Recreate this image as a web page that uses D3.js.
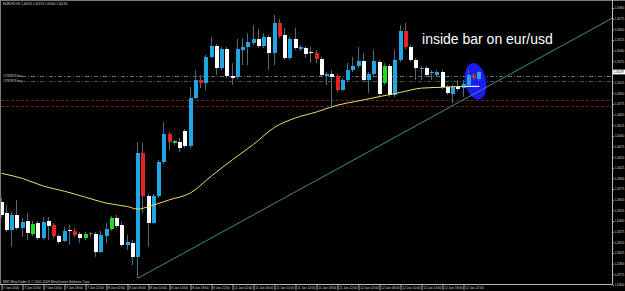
<!DOCTYPE html>
<html>
<head>
<meta charset="utf-8">
<script src="https://cdn.jsdelivr.net/npm/d3@7"></script>
<style>
  body { margin: 0; background: #000; }
  svg { display: block; }
  .axis text { font-family: "Liberation Sans", Arial, sans-serif; font-size: 3.2px; fill: #d8d8d8; }
  .axis line { stroke: #b0b0b0; }
  .priceAxis text { font-size: 2.7px; }
</style>
</head>
<body>
<script>
// EURUSD H1, 7 - 12 Jan 2010 (MetaTrader screenshot)

// one entry per hourly bar
var opens = [1.4362, 1.4349, 1.4330, 1.4347, 1.4332, 1.4340, 1.4325, 1.4338, 1.4320, 1.4340,
             1.4335, 1.4322, 1.4317, 1.4330, 1.4328, 1.4325, 1.4320, 1.4326, 1.4325, 1.4304,
             1.4322, 1.4331, 1.4344, 1.4335, 1.4312, 1.4314, 1.4298, 1.4420, 1.4369, 1.4338,
             1.4369, 1.4409, 1.4442, 1.4432, 1.4433, 1.4446, 1.4428, 1.4484, 1.4506, 1.4502,
             1.4532, 1.4545, 1.4520, 1.4542, 1.4510, 1.4509, 1.4541, 1.4544, 1.4549, 1.4554,
             1.4545, 1.4556, 1.4537, 1.4572, 1.4558, 1.4531, 1.4554, 1.4542, 1.4543, 1.4538,
             1.4537, 1.4530, 1.4510, 1.4513, 1.4510, 1.4494, 1.4506, 1.4517, 1.4522, 1.4528,
             1.4506, 1.4513, 1.4527, 1.4502, 1.4522, 1.4488, 1.4529, 1.4563, 1.4544, 1.4529,
             1.4518, 1.4520, 1.4514, 1.4511, 1.4515, 1.4497, 1.4489, 1.4497, 1.4496, 1.4500,
             1.4511, 1.4507];
var highs = [1.4367, 1.4359, 1.4351, 1.4365, 1.4344, 1.4349, 1.4340, 1.4340, 1.4345, 1.4345,
             1.4338, 1.4325, 1.4333, 1.4335, 1.4332, 1.4327, 1.4327, 1.4327, 1.4327, 1.4328,
             1.4338, 1.4346, 1.4347, 1.4339, 1.4324, 1.4318, 1.4433, 1.4432, 1.4372, 1.4372,
             1.4412, 1.4456, 1.4445, 1.4435, 1.4437, 1.4448, 1.4497, 1.4517, 1.4511, 1.4535,
             1.4556, 1.4548, 1.4544, 1.4544, 1.4525, 1.4554, 1.4555, 1.4561, 1.4570, 1.4565,
             1.4561, 1.4558, 1.4582, 1.4577, 1.4566, 1.4556, 1.4566, 1.4547, 1.4545, 1.4544,
             1.4541, 1.4532, 1.4515, 1.4517, 1.4513, 1.4508, 1.4525, 1.4532, 1.4544, 1.4537,
             1.4515, 1.4541, 1.4529, 1.4525, 1.4524, 1.4541, 1.4570, 1.4572, 1.4547, 1.4531,
             1.4522, 1.4522, 1.4517, 1.4517, 1.4517, 1.4500, 1.4500, 1.4506, 1.4506, 1.4517,
             1.4514, 1.4516];
var lows = [1.4344, 1.4327, 1.4310, 1.4330, 1.4321, 1.4318, 1.4322, 1.4318, 1.4318, 1.4318,
            1.4320, 1.4313, 1.4315, 1.4312, 1.4321, 1.4314, 1.4318, 1.4322, 1.4298, 1.4302,
            1.4314, 1.4328, 1.4332, 1.4310, 1.4306, 1.4289, 1.4273, 1.4349, 1.4310, 1.4337,
            1.4367, 1.4407, 1.4423, 1.4429, 1.4421, 1.4426, 1.4426, 1.4483, 1.4496, 1.4494,
            1.4531, 1.4511, 1.4517, 1.4508, 1.4500, 1.4507, 1.4523, 1.4523, 1.4547, 1.4543,
            1.4543, 1.4517, 1.4523, 1.4555, 1.4529, 1.4529, 1.4541, 1.4539, 1.4531, 1.4525,
            1.4525, 1.4509, 1.4500, 1.4474, 1.4491, 1.4493, 1.4503, 1.4515, 1.4520, 1.4503,
            1.4490, 1.4510, 1.4486, 1.4500, 1.4486, 1.4486, 1.4527, 1.4542, 1.4527, 1.4506,
            1.4506, 1.4509, 1.4506, 1.4509, 1.4495, 1.4488, 1.4479, 1.4493, 1.4486, 1.4498,
            1.4506, 1.4504];
var closes = [1.4347, 1.4330, 1.4347, 1.4332, 1.4339, 1.4326, 1.4337, 1.4320, 1.4339, 1.4334,
              1.4322, 1.4315, 1.4328, 1.4328, 1.4324, 1.4320, 1.4325, 1.4325, 1.4304, 1.4324,
              1.4331, 1.4344, 1.4334, 1.4312, 1.4315, 1.4298, 1.4420, 1.4369, 1.4338, 1.4369,
              1.4409, 1.4442, 1.4433, 1.4434, 1.4426, 1.4428, 1.4484, 1.4506, 1.4502, 1.4532,
              1.4545, 1.4520, 1.4542, 1.4510, 1.4508, 1.4542, 1.4544, 1.4550, 1.4554, 1.4545,
              1.4556, 1.4537, 1.4572, 1.4557, 1.4531, 1.4554, 1.4543, 1.4544, 1.4536, 1.4537,
              1.4530, 1.4511, 1.4513, 1.4509, 1.4494, 1.4506, 1.4517, 1.4522, 1.4528, 1.4506,
              1.4513, 1.4528, 1.4489, 1.4522, 1.4488, 1.4529, 1.4563, 1.4544, 1.4529, 1.4520,
              1.4520, 1.4511, 1.4515, 1.4515, 1.4497, 1.4490, 1.4497, 1.4495, 1.4501, 1.4511,
              1.4508, 1.4515];
// candle colour of each bar: b blue, w white, r red, g green
var barColors = ["w","w","b","w","b","w","g","w","b","w",
                 "r","w","b","w","r","w","g","r","w","b",
                 "b","g","w","w","b","w","b","r","w","b",
                 "b","b","r","g","w","w","b","b","r","b",
                 "b","w","b","w","w","b","b","b","b","w",
                 "b","w","b","r","w","b","w","b","w","w",
                 "r","w","b","w","r","b","b","b","b","w",
                 "b","b","w","g","w","b","b","r","w","w",
                 "b","w","b","b","w","w","b","w","b","b",
                 "r","b"];

// moving average, read every few bars
var maBars   = [0, 4, 8, 12, 16, 20, 24, 26, 28, 32, 36, 40, 44, 48, 52, 56, 60, 64, 68, 72, 76, 80, 84, 88, 91];
var maValues = [1.4396, 1.4390, 1.4381, 1.4375, 1.4368, 1.4361, 1.4357, 1.4354, 1.4357, 1.4365,
                1.4373, 1.4393, 1.4412, 1.4430, 1.4450, 1.4461, 1.4468, 1.4476, 1.4481, 1.4486,
                1.4491, 1.4496, 1.4497, 1.4498, 1.4498];

// trend line anchors [bar, price]
var trendPoints = [[26, 1.4273], [116.3, 1.4578]];

// order / stop lines
var orderPrices = [1.4510, 1.4504];
var orderLabels = ["#1782974 buy", "#1782976 buy"];
var stopPrices = [1.4482, 1.4475];

// axis ticks
var priceTicks = [1.45900, 1.45775, 1.45650, 1.45525, 1.45400, 1.45275, 1.45150, 1.45025, 1.44900,
                  1.44775, 1.44650, 1.44525, 1.44400, 1.44275, 1.44150, 1.44025, 1.43900, 1.43775,
                  1.43650, 1.43525, 1.43400, 1.43275, 1.43150, 1.43025, 1.42900, 1.42775, 1.42650];
var timeTickBars = [0, 4, 8, 12, 16, 20, 24, 28, 32, 36, 40, 44, 48, 52, 56, 60, 64, 68, 72, 76, 80, 84, 88];
var timeLabels = ["7 Jan 2010", "7 Jan 10:00", "7 Jan 14:00", "7 Jan 18:00", "7 Jan 22:00",
                  "8 Jan 02:00", "8 Jan 06:00", "8 Jan 10:00", "8 Jan 14:00", "8 Jan 18:00",
                  "8 Jan 22:00", "11 Jan 02:00", "11 Jan 06:00", "11 Jan 10:00", "11 Jan 14:00",
                  "11 Jan 18:00", "11 Jan 22:00", "12 Jan 02:00", "12 Jan 06:00", "12 Jan 10:00",
                  "12 Jan 14:00", "12 Jan 18:00", "12 Jan 22:00"];

var lastPrice = 1.45149;
var titleText = "EURUSD,H1  1.45070 1.45170 1.45040 1.45149";
var noteText = "inside bar on eur/usd";
var notePos = [80.1, 1.4548];
var ellipsePos = [90.3, 1.4504];

var width = 625, height = 291;
var plotRight = 612, plotBottom = 284;
var font = "'Liberation Sans', Arial, sans-serif";

var colorMap = { b: "#1fa6e3", w: "#ffffff", r: "#e8231f", g: "#1fdc22" };

var svg = d3.select("body")
            .append("svg")
            .attr("width", width)
            .attr("height", height)
            .style("background", "#000");

// scales
var x = d3.scaleLinear().domain([0, 116]).range([1.5, 610.5]);
var y = d3.scaleLinear().domain([1.42650, 1.45900]).range([285, 8]);

var defs = svg.append("defs");
defs.append("clipPath").attr("id", "plotClip")
    .append("rect")
    .attr("x", 1).attr("y", 1)
    .attr("width", plotRight - 1).attr("height", plotBottom - 1);

var plot = svg.append("g").attr("clip-path", "url(#plotClip)");

// stop lines (red dashes)
plot.selectAll(".stop")
    .data(stopPrices)
    .enter().append("line")
    .attr("x1", 1).attr("x2", plotRight)
    .attr("y1", function(d) { return Math.round(y(d)) + 0.5; })
    .attr("y2", function(d) { return Math.round(y(d)) + 0.5; })
    .attr("stroke", "#7a1a1a")
    .attr("stroke-dasharray", "3,2");

// order lines (dash dot)
plot.selectAll(".order")
    .data(orderPrices)
    .enter().append("line")
    .attr("x1", 22).attr("x2", plotRight)
    .attr("y1", function(d) { return Math.round(y(d)) + 0.5; })
    .attr("y2", function(d) { return Math.round(y(d)) + 0.5; })
    .attr("stroke", function(d, i) { return i == 0 ? "#6c6c6c" : "#3c5c3c"; })
    .attr("stroke-dasharray", "4,2,1,2");

plot.selectAll(".orderLabel")
    .data(orderPrices)
    .enter().append("text")
    .attr("x", 3)
    .attr("y", function(d) { return y(d) + 0.8; })
    .attr("font-family", font)
    .attr("font-size", 3)
    .attr("fill", "#d8d8d8")
    .text(function(d, i) { return orderLabels[i]; });

// blue ellipse round the inside bar
var ex = x(ellipsePos[0]), ey = y(ellipsePos[1]);
var ellipseShape = function(sel) {
  sel.attr("cx", ex).attr("cy", ey)
     .attr("rx", 10.5).attr("ry", 18.5)
     .attr("transform", "rotate(-11," + ex + "," + ey + ")");
};
plot.append("ellipse").call(ellipseShape).attr("fill", "#1b1cf2");
defs.append("clipPath").attr("id", "ellClip").append("ellipse").call(ellipseShape);

// candles
var bars = opens.map(function(o, i) {
  return { i: i, o: o, h: highs[i], l: lows[i], c: closes[i], col: barColors[i] };
});

var candle = plot.selectAll(".candle")
    .data(bars)
    .enter().append("g");

candle.append("line")
    .attr("x1", function(d) { return Math.round(x(d.i) - 2) + 1.5; })
    .attr("x2", function(d) { return Math.round(x(d.i) - 2) + 1.5; })
    .attr("y1", function(d) { return Math.round(y(d.h)); })
    .attr("y2", function(d) { return Math.round(y(d.l)); })
    .attr("stroke", "#4c6a80");

candle.append("rect")
    .attr("x", function(d) { return Math.round(x(d.i) - 2); })
    .attr("width", 4)
    .attr("y", function(d) { return Math.round(y(Math.max(d.o, d.c))); })
    .attr("height", function(d) {
      return Math.max(1, Math.round(y(Math.min(d.o, d.c))) - Math.round(y(Math.max(d.o, d.c))));
    })
    .attr("fill", function(d) { return colorMap[d.col]; });

// moving average
var maLine = d3.line()
    .x(function(d, i) { return x(maBars[i]); })
    .y(function(d) { return y(d); })
    .curve(d3.curveMonotoneX);

plot.append("path")
    .attr("d", maLine(maValues))
    .attr("fill", "none")
    .attr("stroke", "#e8df6a")
    .attr("stroke-width", 1);

// part of the average inside the ellipse shows white
svg.append("g").attr("clip-path", "url(#ellClip)")
    .append("path")
    .attr("d", maLine(maValues))
    .attr("fill", "none")
    .attr("stroke", "#ffffff")
    .attr("stroke-width", 1);

// trend line
plot.append("line")
    .attr("x1", x(trendPoints[0][0])).attr("y1", y(trendPoints[0][1]))
    .attr("x2", x(trendPoints[1][0])).attr("y2", y(trendPoints[1][1]))
    .attr("stroke", "#3f8c84")
    .attr("stroke-width", 1);

// note text
svg.append("text")
    .attr("x", x(notePos[0]))
    .attr("y", y(notePos[1]))
    .attr("font-family", font)
    .attr("font-size", 14)
    .attr("fill", "#ffffff")
    .text(noteText);

// frame
svg.append("line").attr("x1", 0).attr("x2", width).attr("y1", 0.5).attr("y2", 0.5).attr("stroke", "#7a7a7a");
svg.append("line").attr("x1", 0.5).attr("x2", 0.5).attr("y1", 0).attr("y2", plotBottom).attr("stroke", "#7a7a7a");
svg.append("line").attr("x1", plotRight + 0.5).attr("x2", plotRight + 0.5).attr("y1", 0).attr("y2", plotBottom + 1).attr("stroke", "#b8b8b8");
svg.append("line").attr("x1", 0).attr("x2", plotRight + 1).attr("y1", plotBottom + 0.5).attr("y2", plotBottom + 0.5).attr("stroke", "#b8b8b8");

// price axis
var yAxis = svg.append("g")
    .attr("class", "axis priceAxis")
    .attr("transform", "translate(" + (plotRight + 1) + ",0)")
    .call(d3.axisRight(y).tickValues(priceTicks).tickFormat(d3.format(".5f")).tickSize(1).tickPadding(0.6));
yAxis.select(".domain").remove();

// time axis
var xAxis = svg.append("g")
    .attr("class", "axis")
    .attr("transform", "translate(0," + (plotBottom + 1) + ")")
    .call(d3.axisBottom(x).tickValues(timeTickBars)
          .tickFormat(function(d, i) { return timeLabels[i]; })
          .tickSize(5));
xAxis.select(".domain").remove();
xAxis.selectAll("text")
    .attr("text-anchor", "start")
    .attr("x", 1.2)
    .attr("y", 1.6)
    .attr("dy", "0.71em");

// current price tag
svg.append("rect")
    .attr("x", plotRight + 1).attr("y", y(lastPrice) - 2.4)
    .attr("width", 12).attr("height", 4.8)
    .attr("fill", "#ffffff");
svg.append("text")
    .attr("x", plotRight + 1.8).attr("y", y(lastPrice) + 1)
    .attr("font-family", font)
    .attr("font-size", 2.7)
    .attr("fill", "#000")
    .text(d3.format(".5f")(lastPrice));

// title and copyright
svg.append("text")
    .attr("x", 3).attr("y", 4.6)
    .attr("font-family", font)
    .attr("font-size", 3)
    .attr("fill", "#dcdcdc")
    .text(titleText);
svg.append("text")
    .attr("x", 3).attr("y", 282.6)
    .attr("font-family", font)
    .attr("font-size", 3.2)
    .attr("fill", "#cfcfcf")
    .text("MBT MetaTrader 4, \u00a9 2001-2009 MetaQuotes Software Corp.");
</script>
</body>
</html>
